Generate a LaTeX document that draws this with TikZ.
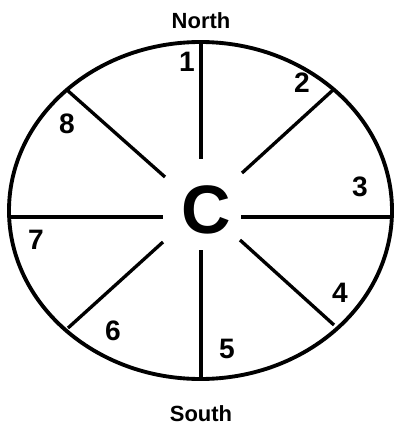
\documentclass[tikz,border=0pt]{standalone}
\usepackage{fontspec}
\setmainfont{Liberation Sans}
\usepackage{tikz}
\usetikzlibrary{calc,positioning}

\begin{document}
\begin{tikzpicture}[x=0.02cm, y=-0.02cm,
  rim/.style={draw=black, line width=2.2pt},
  spoke/.style={draw=black, line width=1.9pt},
  num/.style={font=\fontsize{16}{18}\selectfont\bfseries, inner sep=0pt},
  pole/.style={font=\fontsize{12.5}{14}\selectfont\bfseries, inner sep=0pt},
  hub/.style={font=\fontsize{39}{40}\selectfont\bfseries, inner sep=0pt},
]
  \useasboundingbox (0,0) rectangle (394,426);

  % rim
  \draw[rim] (200.5,210.5) ellipse [x radius=191.5, y radius=168.5];

  % spoke ends
  \coordinate (nOut) at (201,42);   \coordinate (nIn) at (201,159);
  \coordinate (sOut) at (201,379);  \coordinate (sIn) at (201,250);
  \coordinate (wOut) at (9,217);    \coordinate (wIn) at (163,217);
  \coordinate (eOut) at (392,217);  \coordinate (eIn) at (241,217);
  \coordinate (nwOut) at (67,90);   \coordinate (nwIn) at (165,177);
  \coordinate (neOut) at (333,90);  \coordinate (neIn) at (242,173);
  \coordinate (swOut) at (68,328);  \coordinate (swIn) at (163,242);
  \coordinate (seOut) at (334,325); \coordinate (seIn) at (240,240);

  \draw[spoke] (nOut) -- (nIn);
  \draw[spoke] (sOut) -- (sIn);
  \draw[spoke] (wOut) -- (wIn);
  \draw[spoke] (eOut) -- (eIn);
  \draw[spoke] (nwOut) -- (nwIn);
  \draw[spoke] (neOut) -- (neIn);
  \draw[spoke] (swOut) -- (swIn);
  \draw[spoke] (seOut) -- (seIn);

  \node[hub] (centre) at (206,210) {C};

  \node[pole] (north) at (201,21) {North};
  \node[pole] (south) at (201,414) {South};

  \node[num] (z1) at (187,62) {1};
  \node[num] (z2) at (302,83) {2};
  \node[num] (z3) at (360,187) {3};
  \node[num] (z4) at (340,293) {4};
  \node[num] (z5) at (227,349) {5};
  \node[num] (z6) at (113,331) {6};
  \node[num] (z7) at (36,240) {7};
  \node[num] (z8) at (67,124) {8};
\end{tikzpicture}
\end{document}
